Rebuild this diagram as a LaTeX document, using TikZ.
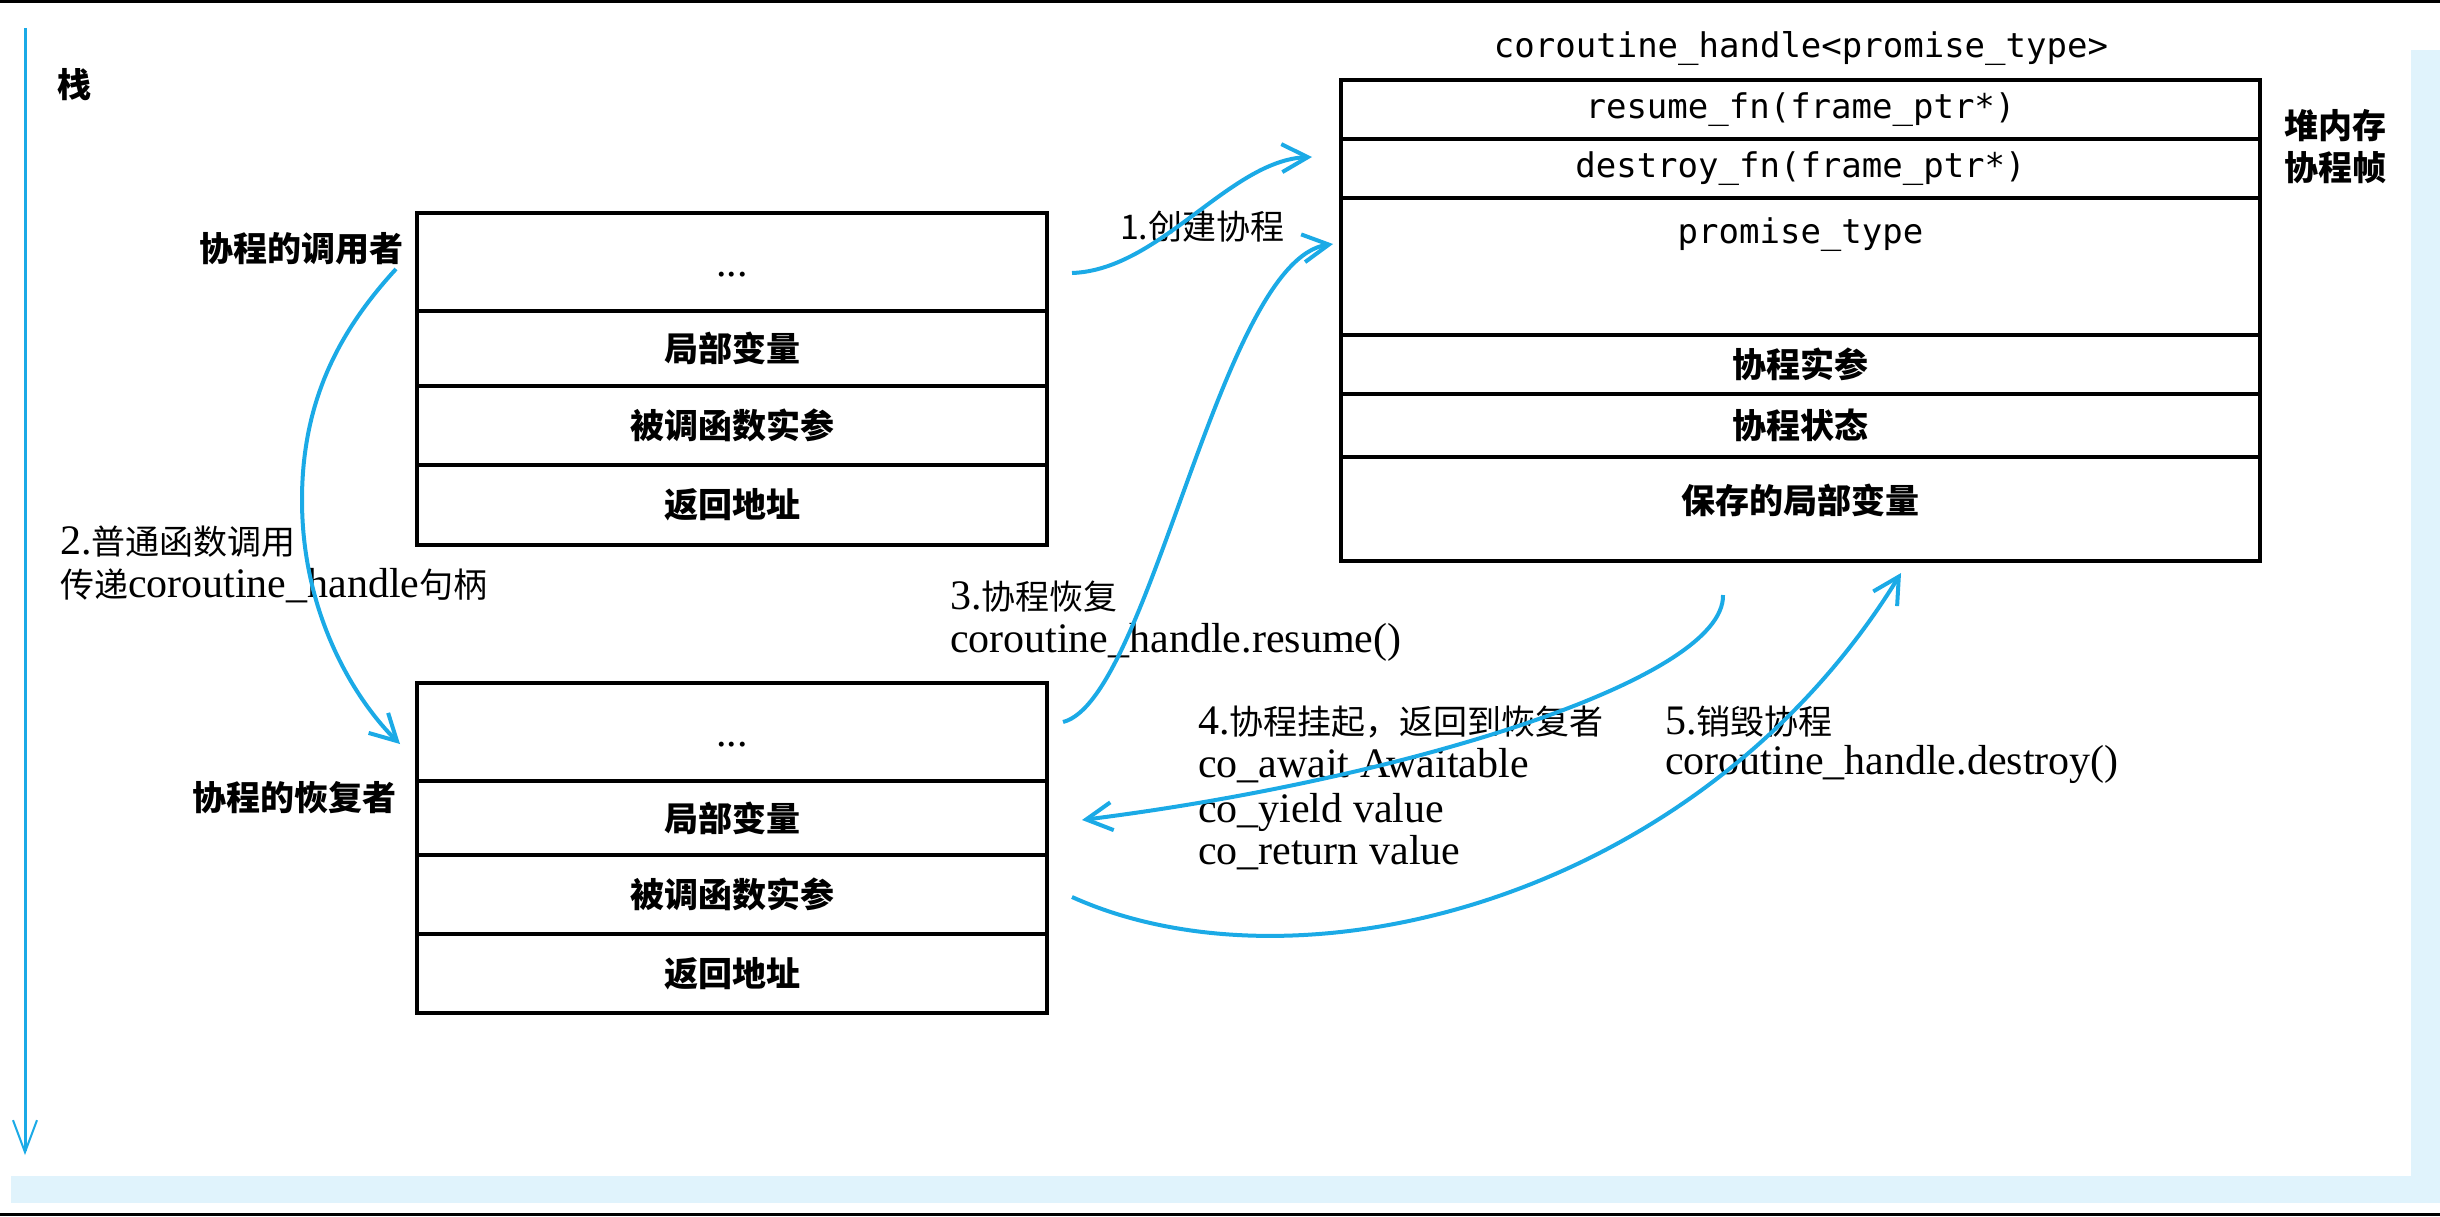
\documentclass[tikz,border=0pt]{standalone}
\usepackage{fontspec}
\setmainfont{Liberation Serif}
\newfontfamily\cjk{Noto Sans CJK SC}
\newfontfamily\monof{DejaVu Sans Mono}
\usetikzlibrary{arrows.meta}
\definecolor{flow}{RGB}{27,170,230}
\definecolor{band}{RGB}{224,243,252}
\newcommand{\zhs}[1]{{\cjk\fontsize{17pt}{21.5pt}\selectfont #1}}
\newcommand{\zhb}[1]{{\cjk\bfseries\fontsize{17pt}{21.5pt}\selectfont #1}}
\begin{document}
\begin{tikzpicture}[x=0.5pt,y=-0.5pt,
  every node/.style={inner sep=0pt,outer sep=0pt},
  lbl/.style={font=\fontsize{17pt}{21pt}\selectfont},
  ser/.style={font=\fontsize{21pt}{21.5pt}\selectfont},
  mono/.style={font=\monof\fontsize{17pt}{20pt}\selectfont},
  cbox/.style={draw=black,line width=2pt,minimum width=315pt,font=\cjk\bfseries\fontsize{17pt}{20pt}\selectfont},
  hbox/.style={draw=black,line width=2pt,minimum width=459.5pt,font=\monof\fontsize{17pt}{20pt}\selectfont},
  flowline/.style={draw=flow,line width=2pt},
  flowarrow/.style={flowline,-{Straight Barb[length=13pt,width=14pt,line width=2pt]}}
]
\useasboundingbox (0,0) rectangle (2440,1216);
% frame bits
\fill[band] (2411,50) rectangle (2440,1203);
\fill[band] (11,1176) rectangle (2440,1203);
\fill[black] (0,0) rectangle (2440,3);
\fill[black] (0,1213) rectangle (2440,1216);

% stack axis
\coordinate (stacktop) at (25,28);
\coordinate (stackbot) at (25,1155);
\draw[flowline,line width=1.5pt,-{Straight Barb[length=16pt,width=12pt,line width=1pt]}] (stacktop) -- (stackbot);
\node[lbl,anchor=base west] (stacklbl) at (57,97) {\zhb{栈}};

% caller stack frame
\node[cbox,minimum height=49pt] (c1) at (732,262) {};
\node[cbox,minimum height=37.5pt] (c2) at (732,348.5) {局部变量};
\node[cbox,minimum height=39.5pt] (c3) at (732,425.5) {被调函数实参};
\node[cbox,minimum height=40pt] (c4) at (732,505) {返回地址};
\node[ser,anchor=base] (c1t) at (732,276) {...};
\node[lbl,anchor=base east] (caller) at (403,261) {\zhb{协程的调用者}};

% resumer stack frame
\node[cbox,minimum height=49pt] (r1) at (732,732) {};
\node[cbox,minimum height=37pt] (r2) at (732,818) {局部变量};
\node[cbox,minimum height=39.5pt] (r3) at (732,894.5) {被调函数实参};
\node[cbox,minimum height=39.5pt] (r4) at (732,973.5) {返回地址};
\node[ser,anchor=base] (r1t) at (732,746) {...};
\node[lbl,anchor=base east] (resumer) at (396,810) {\zhb{协程的恢复者}};

% heap coroutine frame
\node[mono,anchor=base] (htitle) at (1801,57) {coroutine\_handle<promise\_type>};
\node[hbox,minimum height=29.25pt] (h1) at (1800.5,109.25) {resume\_fn(frame\_ptr*)};
\node[hbox,minimum height=29.75pt] (h2) at (1800.5,168.25) {destroy\_fn(frame\_ptr*)};
\node[hbox,minimum height=68.5pt] (h3) at (1800.5,266.5) {};
\node[hbox,minimum height=29.5pt,font=\cjk\bfseries\fontsize{17pt}{20pt}\selectfont] (h4) at (1800.5,364.5) {协程实参};
\node[hbox,minimum height=31.5pt,font=\cjk\bfseries\fontsize{17pt}{20pt}\selectfont] (h5) at (1800.5,425.5) {协程状态};
\node[hbox,minimum height=52pt] (h6) at (1800.5,509) {};
\node[mono,anchor=base] (h3t) at (1800.5,243) {promise\_type};
\node[lbl,anchor=base] (h6t) at (1800.5,513) {\zhb{保存的局部变量}};
\node[lbl,anchor=base west] (heap1) at (2284,138) {\zhb{堆内存}};
\node[lbl,anchor=base west] (heap2) at (2284,180) {\zhb{协程帧}};

% step labels
\node[lbl,anchor=base west] (s1) at (1120,239) {\zhs{1.创建协程}};
\node[ser,anchor=base west] (s2a) at (60,554) {2.\zhs{普通函数调用}};
\node[ser,anchor=base west] (s2b) at (60,597) {\zhs{传递}coroutine\_handle\zhs{句柄}};
\node[ser,anchor=base west] (s3a) at (950,609) {3.\zhs{协程恢复}};
\node[ser,anchor=base west] (s3b) at (950,652) {coroutine\_handle.resume()};
\node[ser,anchor=base west] (s4a) at (1198,734) {4.\zhs{协程挂起，返回到恢复者}};
\node[ser,anchor=base west] (s4b) at (1198,777) {co\_await Awaitable};
\node[ser,anchor=base west] (s4c) at (1198,822) {co\_yield value};
\node[ser,anchor=base west] (s4d) at (1198,864) {co\_return value};
\node[ser,anchor=base west] (s5a) at (1665,734) {5.\zhs{销毁协程}};
\node[ser,anchor=base west] (s5b) at (1665,774) {coroutine\_handle.destroy()};

% flow arrows
\coordinate (a1s) at (1072,273); \coordinate (a1e) at (1312,157);
\coordinate (a2s) at (396,269);  \coordinate (a2e) at (400,744);
\coordinate (a3s) at (1063,722); \coordinate (a3e) at (1333,244);
\coordinate (a4s) at (1723,595); \coordinate (a4e) at (1082,820);
\coordinate (a5s) at (1072,897); \coordinate (a5e) at (1901,573);
\draw[flowarrow] (a1s) .. controls (1160,270) and (1230,160) .. (a1e);
\draw[flowarrow] (a2s) .. controls (340,330) and (302,400) .. (302,500) .. controls (302,620) and (360,705) .. (a2e);
\draw[flowarrow] (a3s) .. controls (1150,700) and (1220,260) .. (a3e);
\draw[flowarrow] (a4s) .. controls (1725,680) and (1400,780) .. (a4e);
\draw[flowarrow] (a5s) .. controls (1300,1000) and (1700,900) .. (a5e);
\end{tikzpicture}
\end{document}
